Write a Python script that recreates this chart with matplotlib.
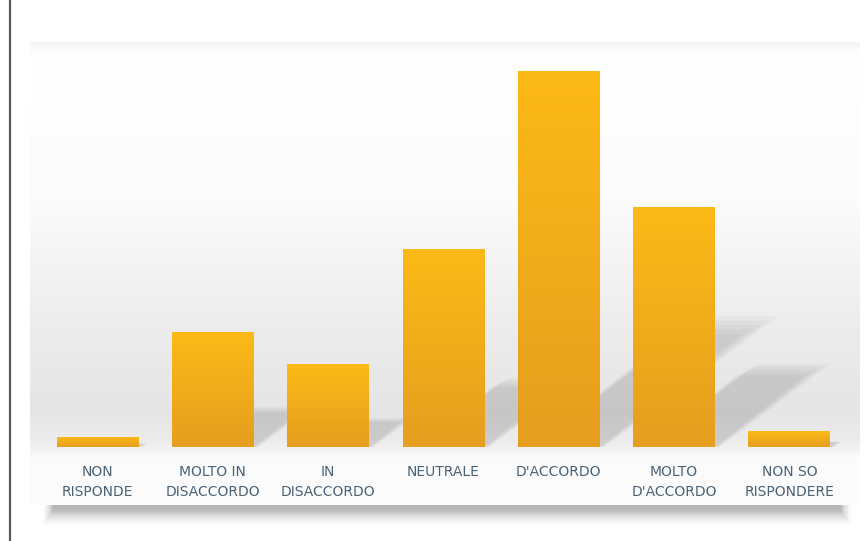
import numpy as np
from matplotlib import pyplot as plt
from matplotlib.patches import Polygon, Rectangle
from matplotlib.lines import Line2D

categories = ["NON\nRISPONDE", "MOLTO IN\nDISACCORDO", "IN\nDISACCORDO", "NEUTRALE",
              "D'ACCORDO", "MOLTO\nD'ACCORDO", "NON SO\nRISPONDERE"]
values = [1.0, 11.0, 8.0, 19.0, 36.0, 23.0, 1.5]

W, H = 867, 541
fig = plt.figure(figsize=(W / 100, H / 100), dpi=100)
fig.patch.set_facecolor("white")

def px_axes(x0, y0, x1, y1, **kw):
    # axes rectangle given in pixel coords (top-left origin)
    return fig.add_axes([x0 / W, 1 - y1 / H, (x1 - x0) / W, (y1 - y0) / H], **kw)

# left border line
fig.add_artist(Line2D([10 / W, 10 / W], [0, 1], color="#5a5a5a", lw=1.6))

# panel shadow
sh = px_axes(28, 40, 866, 530)
sh.set_axis_off()
sh.set_xlim(0, 1)
sh.set_ylim(0, 1)
for i in range(14):
    a = 0.05 * (1 - i / 14)
    sh.add_patch(Rectangle((0.03 - i * 0.001, 0.04 - i * 0.0025), 0.94 + i * 0.002, 0.9,
                           color="#303030", alpha=a, lw=0))

# panel background gradient
bg = px_axes(30, 42, 860, 505)
bg.set_axis_off()
ys = np.linspace(0, 1, 400)  # 0 = top
g = np.interp(ys, [0, 0.02, 0.05, 0.35, 0.62, 0.8, 0.86, 0.88, 0.9, 1.0],
              [0.96, 0.99, 1.0, 0.985, 0.925, 0.9, 0.925, 0.95, 0.985, 0.99])
img = np.repeat(g[:, None], 2, axis=1)
bg.imshow(np.dstack([img, img, img]), aspect="auto", extent=[0, 1, 0, 1])
bg.set_xlim(0, 1)
bg.set_ylim(0, 1)

# main chart
ax = px_axes(40, 40, 847, 447)
ax.patch.set_alpha(0)
x = np.arange(len(categories))
width = 0.71

# soft bar shadows (skewed projection of each bar), a few layers for blur
for xi, v in zip(x, values):
    for k in range(5):
        rise = (0.30 + 0.012 * k) * v
        shift = (0.034 + 0.002 * k) * v
        poly = Polygon([(xi - width / 2 + 0.12, 0), (xi + width / 2 + 0.01 * k, 0),
                        (xi + width / 2 + shift + 0.01 * k, rise),
                        (xi - width / 2 + shift + 0.12, rise)],
                       closed=True, color="#555555", alpha=0.045, lw=0, zorder=1)
        ax.add_patch(poly)

bars = ax.bar(x, values, width=width, color="#F3AD15", zorder=2)

# vertical gradient on bars
grad = np.linspace(0, 1, 256)[:, None]
top = np.array([0.99, 0.73, 0.09])
bot = np.array([0.90, 0.62, 0.12])
col = top * (1 - grad[..., None]) + bot * grad[..., None]
col = np.repeat(col, 2, axis=1)
for b in bars:
    bx, by = b.get_x(), b.get_y()
    bw, bh = b.get_width(), b.get_height()
    im = ax.imshow(col, aspect="auto", extent=[bx, bx + bw, by, by + bh], zorder=3)
    im.set_clip_path(b)
ax.set_xlim(-0.5, len(categories) - 0.5)
ax.set_ylim(0, 39)

ax.set_xticks(x)
ax.set_xticklabels(categories, family=["Liberation Sans Narrow", "DejaVu Sans"],
                   fontsize=10, color="#4a6276", linespacing=1.55)
ax.tick_params(axis="x", length=0, pad=13)
ax.set_yticks([])
for sp in ax.spines.values():
    sp.set_visible(False)

plt.savefig("out.png", dpi=100)
